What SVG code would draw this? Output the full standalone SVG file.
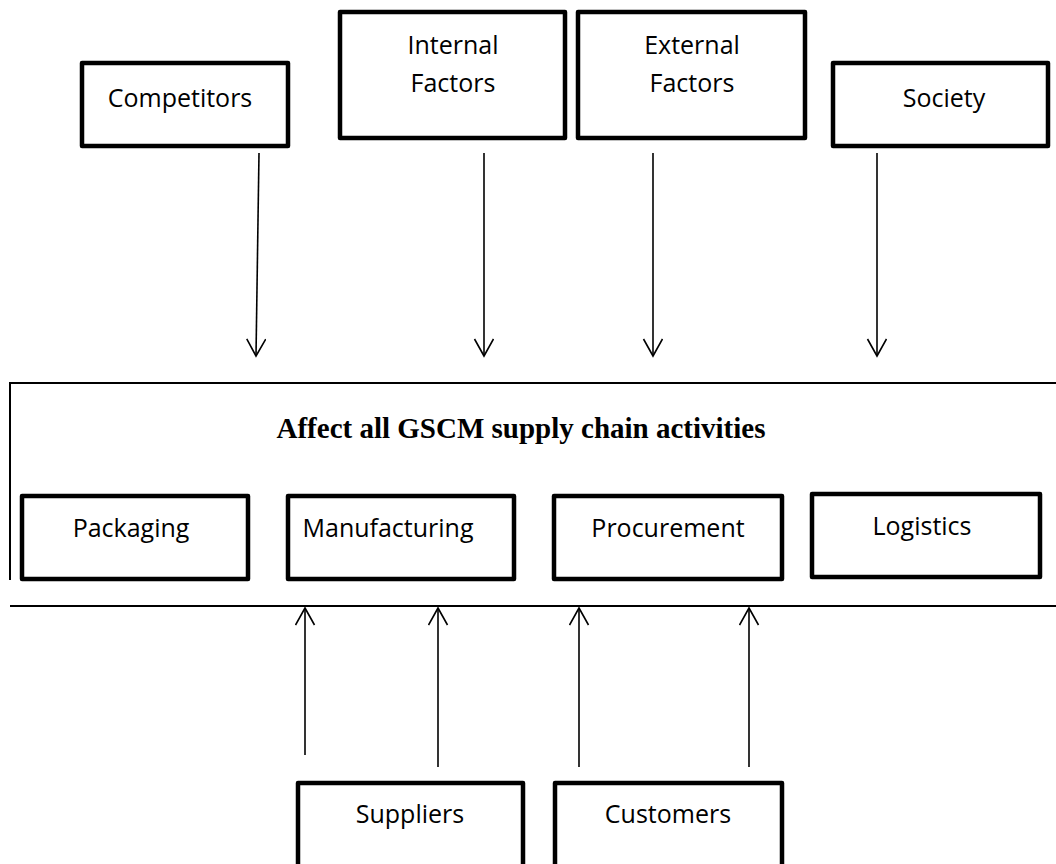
<svg xmlns="http://www.w3.org/2000/svg" width="1056" height="864" viewBox="0 0 1056 864">
  <style>
    .box { fill: #fff; stroke: #000; stroke-width: 4.5; stroke-linejoin: round; }
    .lbl { font-family: "Open Sans", "Noto Sans", "Liberation Sans", sans-serif; font-size: 25px; fill: #000; text-anchor: middle; }
    .title { font-family: "Liberation Serif", "Times New Roman", serif; font-weight: bold; font-size: 29px; fill: #000; text-anchor: middle; }
    .frame { fill: none; stroke: #000; stroke-width: 2; }
    .arrow { fill: none; stroke: #000; stroke-width: 1.6; }
  </style>
  <defs>
    <marker id="head" markerUnits="userSpaceOnUse" markerWidth="24" markerHeight="24" refX="18" refY="10" orient="auto">
      <path d="M1,0.5 L18,10 L1,19.5" fill="none" stroke="#000" stroke-width="1.6"/>
    </marker>
  </defs>

  <rect width="1056" height="864" fill="#fff"/>

  <!-- influencing factors -->
  <g id="competitors">
    <rect class="box" x="82" y="63" width="206" height="83"/>
    <text class="lbl" x="180" y="107">Competitors</text>
  </g>
  <g id="internal-factors">
    <rect class="box" x="340" y="12" width="225" height="126"/>
    <text class="lbl" x="453" y="54">Internal</text>
    <text class="lbl" x="453" y="92">Factors</text>
  </g>
  <g id="external-factors">
    <rect class="box" x="578" y="12" width="227" height="126"/>
    <text class="lbl" x="692" y="54">External</text>
    <text class="lbl" x="692" y="92">Factors</text>
  </g>
  <g id="society">
    <rect class="box" x="833" y="63" width="215" height="83"/>
    <text class="lbl" x="944" y="107">Society</text>
  </g>

  <!-- supply chain frame -->
  <g id="gscm-activities">
    <path class="frame" d="M10,580 V383 H1056"/>
    <path class="frame" d="M10,606 H1056"/>
    <text class="title" x="521" y="438">Affect all GSCM supply chain activities</text>
  </g>
  <g id="packaging">
    <rect class="box" x="22" y="496" width="226" height="83"/>
    <text class="lbl" x="131" y="537">Packaging</text>
  </g>
  <g id="manufacturing">
    <rect class="box" x="288" y="496" width="226" height="83"/>
    <text class="lbl" x="388" y="537">Manufacturing</text>
  </g>
  <g id="procurement">
    <rect class="box" x="554" y="496" width="228" height="83"/>
    <text class="lbl" x="668" y="537">Procurement</text>
  </g>
  <g id="logistics">
    <rect class="box" x="812" y="494" width="228" height="83"/>
    <text class="lbl" x="922" y="535">Logistics</text>
  </g>

  <!-- stakeholders -->
  <g id="suppliers">
    <rect class="box" x="298" y="783" width="225" height="90"/>
    <text class="lbl" x="410" y="823">Suppliers</text>
  </g>
  <g id="customers">
    <rect class="box" x="555" y="783" width="227" height="90"/>
    <text class="lbl" x="668" y="823">Customers</text>
  </g>

  <!-- connectors -->
  <g id="connectors">
    <path class="arrow" d="M259,153 L256,356" marker-end="url(#head)"/>
    <path class="arrow" d="M484,153 V356" marker-end="url(#head)"/>
    <path class="arrow" d="M653,153 V356" marker-end="url(#head)"/>
    <path class="arrow" d="M877,153 V356" marker-end="url(#head)"/>
    <path class="arrow" d="M305,755 V608" marker-end="url(#head)"/>
    <path class="arrow" d="M438,767 V608" marker-end="url(#head)"/>
    <path class="arrow" d="M579,767 V608" marker-end="url(#head)"/>
    <path class="arrow" d="M749,767 V608" marker-end="url(#head)"/>
  </g>
</svg>
